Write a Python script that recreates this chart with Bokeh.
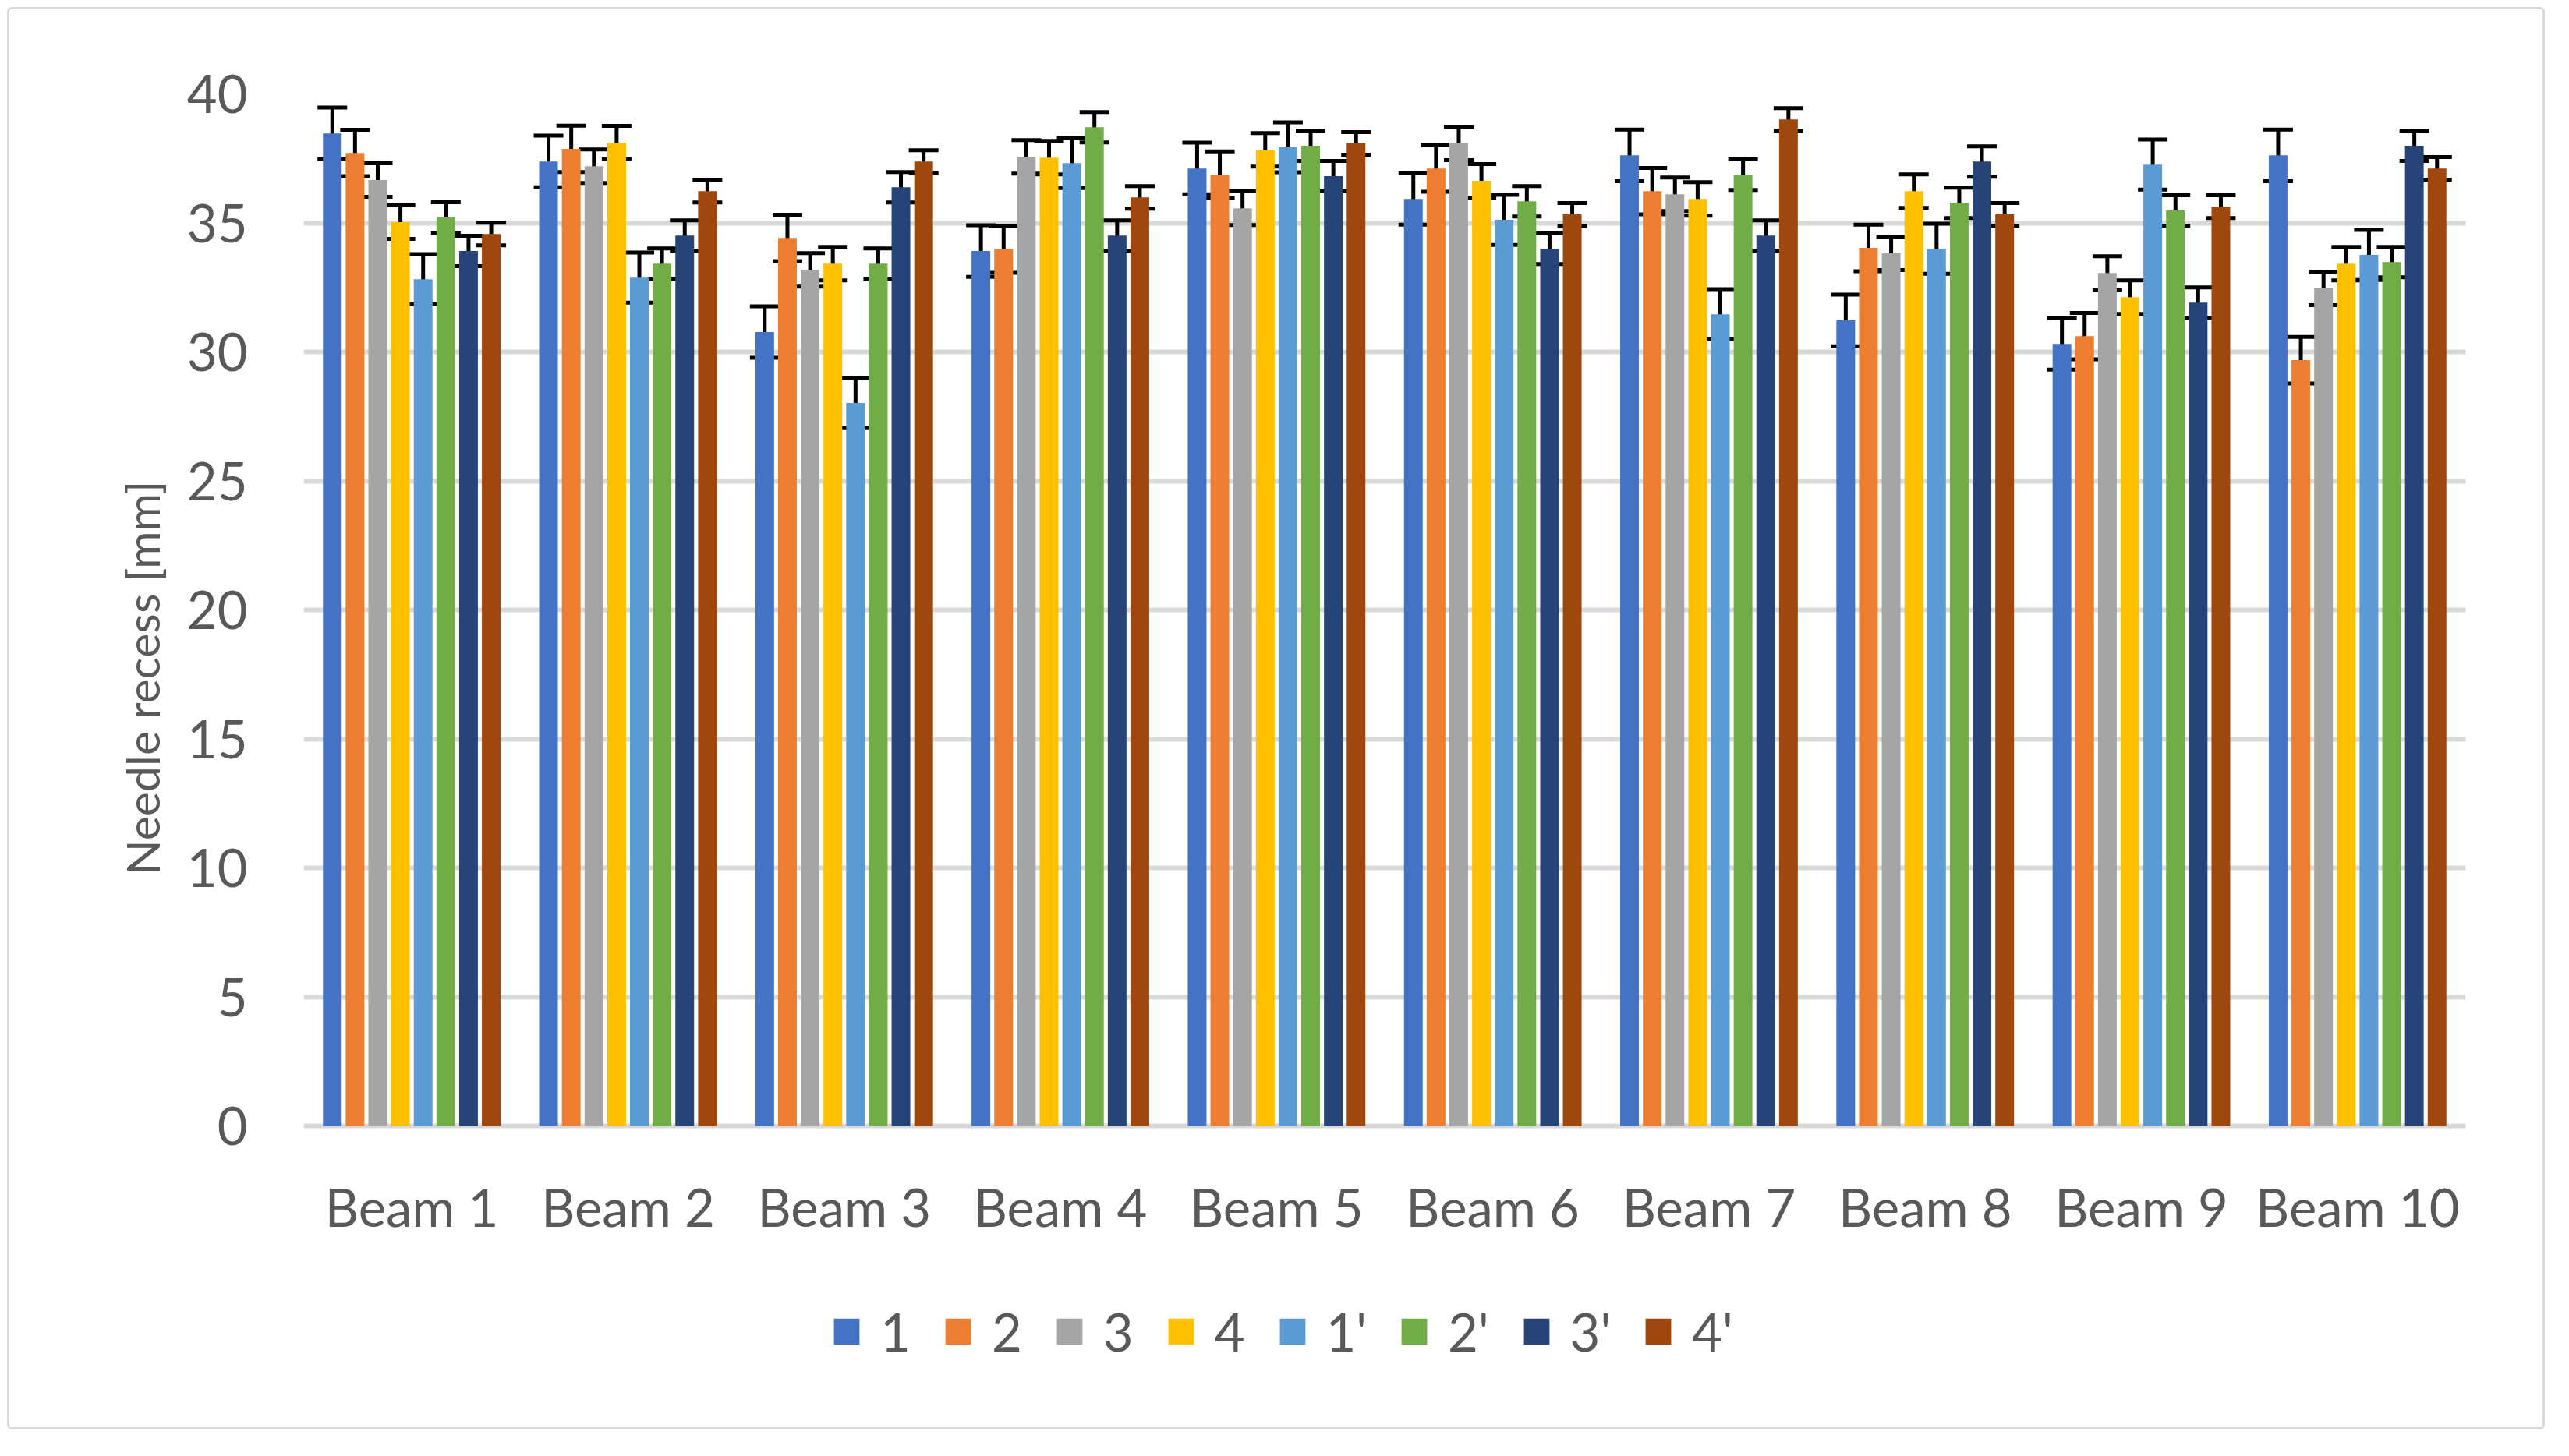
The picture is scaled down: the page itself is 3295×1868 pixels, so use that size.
from bokeh.plotting import figure
from bokeh.models import (ColumnDataSource, FactorRange, Range1d, Whisker, TeeHead,
                          Legend, LegendItem, FixedTicker, LabelSet, Title)
from bokeh.core.properties import value
from bokeh.transform import dodge
from bokeh.embed import file_html
from bokeh.resources import INLINE

beams = ["Beam 1", "Beam 2", "Beam 3", "Beam 4", "Beam 5",
         "Beam 6", "Beam 7", "Beam 8", "Beam 9", "Beam 10"]
series_names = ["1", "2", "3", "4", "1'", "2'", "3'", "4'"]
y_ticks = [0, 5, 10, 15, 20, 25, 30, 35, 40]

v_1 = [38.47, 37.38, 30.77, 33.91, 37.11, 35.93, 37.62, 31.22, 30.31, 37.62]
v_2 = [37.71, 37.87, 34.42, 33.97, 36.87, 37.11, 36.23, 34.03, 30.61, 29.68]
v_3 = [36.66, 37.20, 33.18, 37.56, 35.57, 38.08, 36.11, 33.82, 33.06, 32.46]
v_4 = [35.03, 38.11, 33.42, 37.53, 37.83, 36.63, 35.93, 36.23, 32.12, 33.42]
v_1p = [32.82, 32.88, 28.02, 37.32, 37.93, 35.12, 31.46, 34.00, 37.26, 33.76]
v_2p = [35.21, 33.42, 33.42, 38.71, 37.99, 35.84, 36.87, 35.78, 35.48, 33.48]
v_3p = [33.91, 34.51, 36.38, 34.51, 36.81, 34.00, 34.51, 37.38, 31.91, 37.99]
v_4p = [34.57, 36.23, 37.38, 35.99, 38.08, 35.33, 39.01, 35.33, 35.63, 37.11]

# error bar half-length per series
errors = [1.00, 0.90, 0.65, 0.65, 0.97, 0.59, 0.59, 0.44]

colors = ["#4472C4", "#ED7D31", "#A5A5A5", "#FFC000",
          "#5B9BD5", "#70AD47", "#264478", "#9E480E"]

all_values = [v_1, v_2, v_3, v_4, v_1p, v_2p, v_3p, v_4p]

FONT = "Lato"
TXT = "#595959"
GRID = "#D9D9D9"
FS = "67px"
FS_TITLE = "59px"

# layout (pixels)
W, H = 3255, 1825
B_LEFT, B_RIGHT, B_TOP, B_BOTTOM = 377, 105, 108, 65
PLOT_H = 1324                       # 0 .. 40 span
FRAME_H = H - B_TOP - B_BOTTOM
y_max = y_ticks[-1]
y_min = -y_max * (FRAME_H - PLOT_H) / PLOT_H   # room for category labels + legend

p = figure(width=W, height=H,
           x_range=FactorRange(*beams), y_range=Range1d(y_min, y_max),
           x_axis_location=None,
           output_backend="svg", toolbar_location=None,
           min_border_left=B_LEFT, min_border_right=B_RIGHT,
           min_border_top=B_TOP, min_border_bottom=B_BOTTOM)
p.styles = {"border": "3px solid #D9D9D9", "border-radius": "6px",
            "transform": "translate(9px, 9px)"}
p.outline_line_color = None
p.background_fill_color = "white"

pitch = 0.105
bar_w = 0.0865

items = []
for i, (name, vals, err, col) in enumerate(zip(series_names, all_values, errors, colors)):
    off = (i - 3.5) * pitch
    src = ColumnDataSource(dict(
        beam=beams, val=vals,
        upper=[v + err for v in vals],
        lower=[v - err for v in vals]))
    r = p.vbar(x=dodge("beam", off, range=p.x_range), top="val", bottom=0, width=bar_w,
               source=src, fill_color=col, line_color=None)
    items.append(LegendItem(label=name, renderers=[r]))
    w = Whisker(source=src, base=dodge("beam", off, range=p.x_range),
                upper="upper", lower="lower",
                line_color="black", line_width=5,
                upper_head=TeeHead(size=38, line_color="black", line_width=5),
                lower_head=TeeHead(size=38, line_color="black", line_width=5))
    p.add_layout(w)

# grid
p.xgrid.visible = False
p.ygrid.grid_line_color = GRID
p.ygrid.grid_line_width = 6

# y axis
p.yaxis.ticker = FixedTicker(ticks=y_ticks)
p.yaxis.axis_line_color = None
p.yaxis.major_tick_line_color = None
p.yaxis.minor_tick_line_color = None
p.yaxis.major_tick_out = 0
p.yaxis.major_label_standoff = 72
p.yaxis.major_label_text_font = FONT
p.yaxis.major_label_text_font_size = FS
p.yaxis.major_label_text_color = TXT

# y axis title
title = Title(text="Needle recess [mm]", align="left", offset=650, standoff=37,
              text_font=FONT, text_font_size=FS_TITLE, text_font_style="normal",
              text_color=TXT)
p.add_layout(title, "left")

# category labels
cat_src = ColumnDataSource(dict(beam=beams, y=[0] * len(beams)))
cats = LabelSet(x="beam", y="y", text="beam", source=cat_src, y_offset=-63,
                text_align="center", text_baseline="top",
                text_font=value(FONT), text_font_size=value(FS),
                text_color=value(TXT))
p.add_layout(cats)

legend = Legend(items=items, orientation="horizontal", location=(676, 24),
                glyph_width=41, glyph_height=42, label_standoff=23, spacing=40,
                label_text_font=FONT, label_text_font_size=FS,
                label_text_color=TXT, border_line_color=None,
                background_fill_alpha=0, padding=0, margin=0)
p.add_layout(legend)

open("out.html", "w").write(file_html(p, INLINE))
